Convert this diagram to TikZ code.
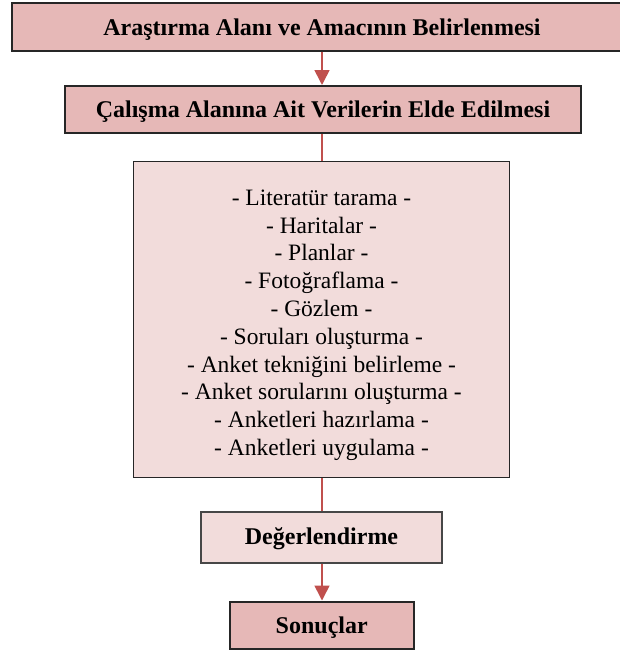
\documentclass[tikz,border=0pt]{standalone}
\usepackage{fontspec}
\setmainfont{Liberation Serif}
\usetikzlibrary{arrows.meta}
\definecolor{darkpink}{HTML}{E6B8B7}
\definecolor{lightpink}{HTML}{F2DCDB}
\definecolor{arrowred}{HTML}{C0504D}
\definecolor{edge}{HTML}{262626}
\tikzset{
  boxbase/.style={draw=edge, inner sep=0pt, align=center, font=\fontsize{24}{28}\selectfont},
  headbox/.style={boxbase, fill=darkpink, line width=2pt, text height=18pt, text depth=2pt, font=\fontsize{24}{28}\selectfont\bfseries},
  listbox/.style={boxbase, fill=lightpink, line width=1.3pt, font=\fontsize{23.5}{27.8}\selectfont},
  evalbox/.style={boxbase, fill=lightpink, draw=edge!85, line width=1.2pt, text height=15pt, text depth=2pt, font=\fontsize{24}{28}\selectfont\bfseries},
  conn/.style={draw=arrowred, line width=1.6pt},
  arr/.style={conn, -{Triangle[width=15pt,length=15pt]}},
}
\begin{document}
\begin{tikzpicture}[x=1pt,y=-1pt]
\useasboundingbox (0,0) rectangle (619,651);
\node[headbox, minimum width=620pt, minimum height=47.2pt] (t1) at (322,27) {Araştırma Alanı ve Amacının Belirlenmesi};
\node[headbox, minimum width=516pt, minimum height=47pt] (t2) at (323,109.5) {Çalışma Alanına Ait Verilerin Elde Edilmesi};
\node[listbox, minimum width=376pt, minimum height=315.5pt] (list) at (321.5,319.5) {%
\rule{0pt}{27pt}- Literatür tarama -\\
- Haritalar -\\
- Planlar -\\
- Fotoğraflama -\\
- Gözlem -\\
- Soruları oluşturma -\\
- Anket tekniğini belirleme -\\
- Anket sorularını oluşturma -\\
- Anketleri hazırlama -\\
- Anketleri uygulama -};
\node[evalbox, minimum width=241pt, minimum height=51pt] (eval) at (321.5,537.5) {Değerlendirme};
\node[headbox, minimum width=184.5pt, minimum height=47.5pt] (res) at (321.75,625.25) {Sonuçlar};
\draw[arr] (322,50) coordinate (a1) (t1.south -| a1) -- (t2.north -| a1);
\draw[conn] (t2.south -| a1) -- (list.north -| a1);
\draw[conn] (list.south -| a1) -- (eval.north -| a1);
\draw[arr] (eval.south -| a1) -- (res.north -| a1);
\end{tikzpicture}
\end{document}
